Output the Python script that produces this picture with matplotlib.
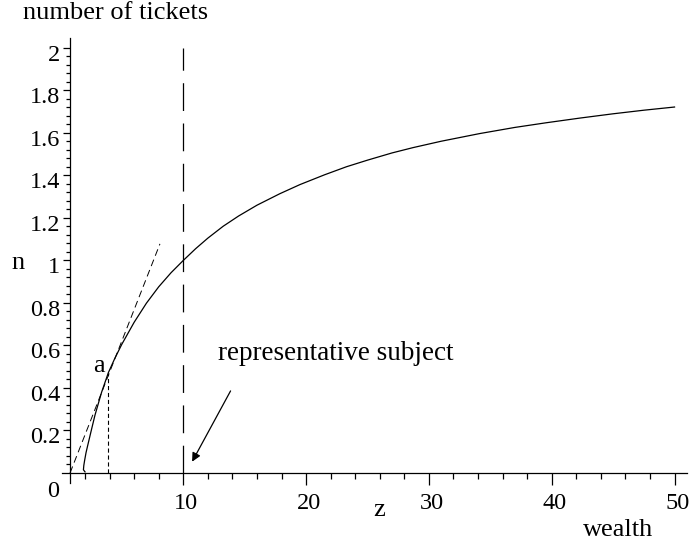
import matplotlib
matplotlib.use('Agg')
import matplotlib.pyplot as plt
import matplotlib.transforms as mtransforms
import numpy as np

plt.rcParams['font.family'] = ['Liberation Serif', 'DejaVu Serif']
plt.rcParams['lines.scale_dashes'] = False

# wealth z and number of tickets n along the curve
z_curve = [2.0, 1.87, 1.9, 1.97, 2.08, 2.2, 2.5, 2.81, 3.35, 3.9, 4.44, 5.0, 6.0,
           7.0, 8.0, 9.0, 10.0, 11.0, 12.0, 13.25, 14.5, 16.0, 17.86, 19.5, 21.5,
           23.29, 25.0, 27.0, 28.71, 31.0, 34.13, 37.0, 39.56, 42.3, 44.98,
           47.5, 50.0]
n_curve = [0.005, 0.015, 0.035, 0.06, 0.095, 0.125, 0.198, 0.272, 0.38, 0.472,
           0.541, 0.606, 0.709, 0.799, 0.876, 0.942, 1.0, 1.055, 1.105, 1.161,
           1.209, 1.26, 1.314, 1.357, 1.403, 1.441, 1.472, 1.506, 1.531, 1.561,
           1.597, 1.626, 1.648, 1.670, 1.690, 1.707, 1.722]

# tangent through point a
z_tangent = [0.78, 8.1]
n_tangent = [0.0, 1.078]
z_a, n_a = 3.9, 0.472

# representative subject
z_rep = 10.0
n_rep_top = 2.0

# arrow from label towards z_rep
arrow_from = (13.85, 0.386)
arrow_to = (10.72, 0.053)

y_major = [0.2, 0.4, 0.6, 0.8, 1.0, 1.2, 1.4, 1.6, 1.8, 2.0]
y_major_labels = ['0.2', '0.4', '0.6', '0.8', '1', '1.2', '1.4', '1.6', '1.8', '2']
x_major = [10, 20, 30, 40, 50]

fig = plt.figure(figsize=(6.9, 5.47), dpi=100)
ax = fig.add_axes([0.0903, 0.1175, 0.9051, 0.8135])

ax.plot(z_curve, n_curve, color='black', lw=0.9)
ax.plot(z_tangent, n_tangent, color='black', lw=0.7, dashes=(5, 3))
ax.plot([z_a, z_a], [0, n_a], color='black', lw=0.8, dashes=(3, 2))
ax.plot([z_rep, z_rep], [0, n_rep_top], color='black', lw=0.9, dashes=(20, 9))
ax.annotate('', xy=arrow_to, xytext=arrow_from,
            arrowprops=dict(arrowstyle='-|>', color='black', lw=0.9,
                            mutation_scale=13, shrinkA=0, shrinkB=0))

ax.text(3.62, 0.477, 'a', fontsize=19, ha='right', va='baseline')
ax.text(12.8, 0.533, 'representative subject', fontsize=19.5, ha='left', va='baseline')

ax.set_xlim(0.15, 51.0)
ax.set_ylim(-0.046, 2.048)

for s in ['top', 'right']:
    ax.spines[s].set_visible(False)
ax.spines['left'].set_position(('data', 0.78))
ax.spines['bottom'].set_position(('data', 0))
for s in ['left', 'bottom']:
    ax.spines[s].set_linewidth(0.9)

ax.set_yticks(y_major)
ax.set_yticklabels(y_major_labels)
ax.set_yticks([v for v in np.arange(0.04, 2.01, 0.04)
               if min(abs(v - m) for m in y_major) > 0.01], minor=True)
ax.set_xticks(x_major)
ax.set_xticks([v for v in range(2, 50, 2) if v % 10], minor=True)

ax.tick_params(axis='y', which='major', length=5, width=0.9, pad=2.2, labelsize=17.5)
ax.tick_params(axis='y', which='minor', length=3, width=0.9)
ax.tick_params(axis='x', which='major', length=8.5, width=0.9, pad=6.0, labelsize=17.5)
ax.tick_params(axis='x', which='minor', length=4.3, width=0.9)

dy = mtransforms.ScaledTranslation(0, -5 / 100, fig.dpi_scale_trans)
for lab in ax.get_yticklabels():
    lab.set_transform(lab.get_transform() + dy)
dx = mtransforms.ScaledTranslation(3 / 100, 0, fig.dpi_scale_trans)
for lab in ax.get_xticklabels():
    lab.set_transform(lab.get_transform() + dx)

W, H = 690, 547
fig.text(23 / W, 1 - 13.3 / H, 'number of tickets', fontsize=19, ha='left', va='center')
fig.text(18.3 / W, 1 - 263.3 / H, 'n', fontsize=19, ha='center', va='center')
fig.text(53 / W, 1 - 491.7 / H, '0', fontsize=17.5, ha='center', va='center')
fig.text(379.3 / W, 1 - 510 / H, 'z', fontsize=19, ha='center', va='center')
fig.text(618.3 / W, 1 - 530 / H, 'wealth', fontsize=19, ha='center', va='center')

fig.savefig('out.png', dpi=100)
